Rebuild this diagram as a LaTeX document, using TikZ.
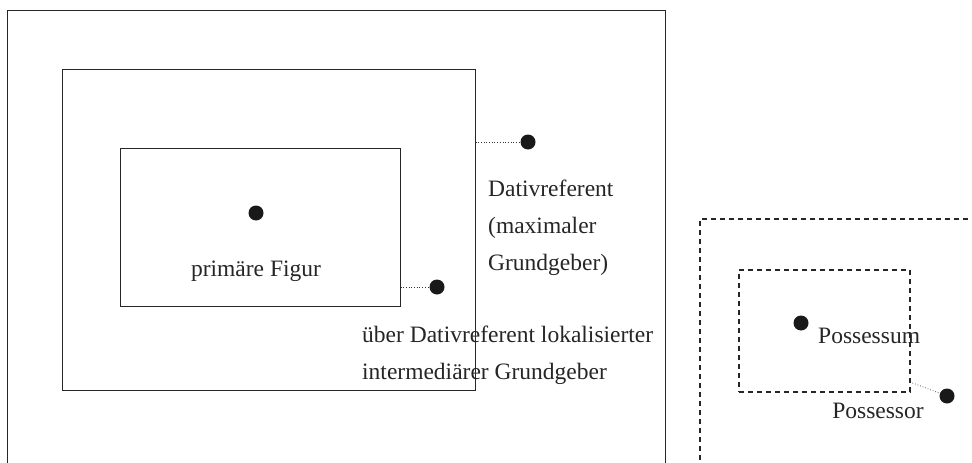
\documentclass[tikz,border=0pt]{standalone}
\usepackage{fontspec}
\setmainfont{Liberation Serif}
\usetikzlibrary{calc}
\begin{document}
\begin{tikzpicture}[x=1pt,y=-1pt,
  box/.style={draw=black!85, line width=1pt, inner sep=0, minimum width=#1},
  dbox/.style={draw=black!85, line width=1.2pt, dash pattern=on 5pt off 4pt, inner sep=0, minimum width=#1},
  dot/.style={circle, fill=black!90, inner sep=0, minimum size=15pt},
  lbl/.style={font=\fontsize{23.5}{37}\selectfont, text=black!85, inner sep=0, align=left},
  link/.style={draw=black!80, dotted, line width=0.7pt}]
\useasboundingbox (0,0) rectangle (972,463);
\clip (0,0) rectangle (972,463);
% solid boxes
\node[box=657.5, minimum height=469.5] (outer) at (336.25,245.25) {};
\node[box=413, minimum height=321] (mid) at (268.5,229.5) {};
\node[box=280, minimum height=158] (inner) at (260,227) {};
% dashed boxes
\node[dbox=300, minimum height=271] (pout) at (850,354.5) {};
\node[dbox=171, minimum height=122] (pin) at (824.5,331) {};
% dots
\node[dot] (d1) at (256,213) {};
\node[dot] (d2) at (528,142) {};
\node[dot] (d3) at (437,287) {};
\node[dot] (d4) at (801,323) {};
\node[dot] (d5) at (947,396) {};
\coordinate (c5) at (910,382);
% links
\draw[link] (mid.east |- d2) -- (d2);
\draw[link] (inner.east |- d3) -- (d3);
\draw[link] (c5) -- (d5);
% labels
\node[lbl] (t1) at (256,271) {primäre Figur};
\node[lbl, anchor=west] (t2) at (488,228) {Dativreferent\\(maximaler\\Grundgeber)};
\node[lbl, anchor=west] (t3) at (362,355) {über Dativreferent lokalisierter\\intermediärer Grundgeber};
\node[lbl, anchor=west] (t4) at (818,336) {Possessum};
\node[lbl] (t5) at (878,411) {Possessor};
\end{tikzpicture}
\end{document}
